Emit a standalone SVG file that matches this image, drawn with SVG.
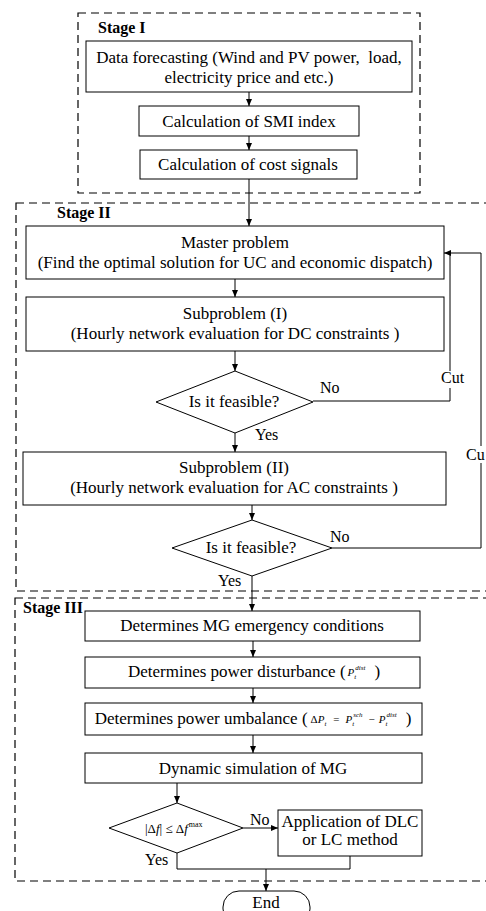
<svg xmlns="http://www.w3.org/2000/svg" width="486" height="911" viewBox="0 0 486 911" font-family="'Liberation Serif', 'Times New Roman', serif">
<style>
  .box{fill:#fff;stroke:#000;stroke-width:1}
  .stage{fill:none;stroke:#000;stroke-width:1.2;stroke-dasharray:8 5}
  .conn{fill:none;stroke:#000;stroke-width:1}
  text{font-family:'Liberation Serif','Times New Roman',serif;fill:#000}
  .t{font-size:17px;text-anchor:middle}
  .lbl{font-size:16px}
  .st{font-size:16px;font-weight:bold}
  .m{font-size:11px;font-style:italic}
  .mu{font-size:11px;font-style:normal}
  .sup{font-size:7px;font-style:italic}
  .big{font-size:17px;font-style:normal}
</style>
<defs>
  <marker id="arr" markerWidth="7" markerHeight="6" refX="7" refY="3" orient="auto" markerUnits="userSpaceOnUse">
    <path d="M0,0 L7,3 L0,6 z" fill="#000"/>
  </marker>
</defs>
<rect width="486" height="911" fill="#fff"/>

<!-- Stage containers -->
<g id="stage1">
  <rect class="stage" x="78" y="13" width="342" height="180"/>
  <text class="st" x="98" y="33">Stage I</text>
</g>
<g id="stage2">
  <rect class="stage" x="16" y="203" width="480" height="388"/>
  <text class="st" x="57" y="218">Stage II</text>
</g>
<g id="stage3">
  <rect class="stage" x="15" y="598" width="481" height="283"/>
  <text class="st" x="23" y="613">Stage III</text>
</g>

<!-- Connectors -->
<g id="connectors">
  <path class="conn" d="M249,92 V106" marker-end="url(#arr)"/>
  <path class="conn" d="M249,136 V150" marker-end="url(#arr)"/>
  <path class="conn" d="M249,179 V226" marker-end="url(#arr)"/>
  <path class="conn" d="M235,279 V297" marker-end="url(#arr)"/>
  <path class="conn" d="M235,351 V371" marker-end="url(#arr)"/>
  <path class="conn" d="M235,433 V452" marker-end="url(#arr)"/>
  <path class="conn" d="M313,401 H450 V253"/>
  <path class="conn" d="M332,548 H481 V253 H444" marker-end="url(#arr)"/>
  <path class="conn" d="M252,505 V520" marker-end="url(#arr)"/>
  <path class="conn" d="M252,576 V611" marker-end="url(#arr)"/>
  <path class="conn" d="M253,641 V657" marker-end="url(#arr)"/>
  <path class="conn" d="M253,688 V703" marker-end="url(#arr)"/>
  <path class="conn" d="M253,735 V753" marker-end="url(#arr)"/>
  <path class="conn" d="M177,783 V803" marker-end="url(#arr)"/>
  <path class="conn" d="M243,828 H278" marker-end="url(#arr)"/>
  <path class="conn" d="M177,853 V869 H350 V856"/>
  <path class="conn" d="M266,869 V891" marker-end="url(#arr)"/>
  <!-- labels -->
  <text class="lbl" x="320" y="393">No</text>
  <rect x="441" y="371" width="24" height="17" fill="#fff"/>
  <text class="lbl" x="441" y="383">Cut</text>
  <text class="lbl" x="255" y="440">Yes</text>
  <text class="lbl" x="330" y="542">No</text>
  <rect x="466" y="446" width="20" height="17" fill="#fff"/>
  <text class="lbl" x="466" y="460">Cu</text>
  <text class="lbl" x="218" y="586">Yes</text>
  <text class="lbl" x="250" y="825">No</text>
  <text class="lbl" x="145" y="865">Yes</text>
</g>

<!-- Nodes -->
<g id="forecast">
  <rect class="box" x="86" y="41" width="326" height="51"/>
  <text class="t" x="249" y="63" xml:space="preserve">Data forecasting (Wind and PV power,  load,</text>
  <text class="t" x="249" y="83">electricity price and etc.)</text>
</g>
<g id="smi">
  <rect class="box" x="139" y="106" width="220" height="30"/>
  <text class="t" x="249" y="127">Calculation of SMI index</text>
</g>
<g id="cost">
  <rect class="box" x="140" y="150" width="217" height="29"/>
  <text class="t" x="248" y="170">Calculation of cost signals</text>
</g>
<g id="master">
  <rect class="box" x="26" y="226" width="418" height="53"/>
  <text class="t" x="235" y="248">Master problem</text>
  <text class="t" x="235" y="268">(Find the optimal solution for UC and economic dispatch)</text>
</g>
<g id="sub1">
  <rect class="box" x="26" y="297" width="418" height="54"/>
  <text class="t" x="235" y="319">Subproblem (I)</text>
  <text class="t" x="235" y="339">(Hourly network evaluation for DC constraints )</text>
</g>
<g id="feasible1">
  <polygon class="box" points="235,371 313,402 235,433 156,402"/>
  <text class="t" x="234" y="407">Is it feasible?</text>
</g>
<g id="sub2">
  <rect class="box" x="23" y="452" width="423" height="53"/>
  <text class="t" x="234" y="473">Subproblem (II)</text>
  <text class="t" x="234" y="493">(Hourly network evaluation for AC constraints )</text>
</g>
<g id="feasible2">
  <polygon class="box" points="252,520 332,548 252,576 172,548"/>
  <text class="t" x="251" y="553">Is it feasible?</text>
</g>
<g id="emergency">
  <rect class="box" x="85" y="611" width="335" height="30"/>
  <text class="t" x="252" y="631">Determines MG emergency conditions</text>
</g>
<g id="disturbance">
  <rect class="box" x="85" y="657" width="335" height="31"/>
  <text class="t" x="254" y="677">Determines power disturbance (<tspan class="m" dx="2" dy="-1">P</tspan><tspan class="sup" dy="3">t</tspan><tspan class="sup" dx="-1" dy="-9">dist</tspan><tspan class="big" dx="9" dy="7">)</tspan></text>
</g>
<g id="umbalance">
  <rect class="box" x="85" y="703" width="337" height="32"/>
  <text class="t" x="253" y="724">Determines power umbalance (<tspan class="mu" dx="3" dy="-1">Δ</tspan><tspan class="m">P</tspan><tspan class="sup" dy="3">t</tspan><tspan class="mu" dx="7" dy="-3">=</tspan><tspan class="m" dx="6">P</tspan><tspan class="sup" dy="3">t</tspan><tspan class="sup" dx="-1" dy="-9">sch</tspan><tspan class="mu" dx="6" dy="6">−</tspan><tspan class="m" dx="4">P</tspan><tspan class="sup" dy="3">t</tspan><tspan class="sup" dx="-1" dy="-9">dist</tspan><tspan class="big" dx="9" dy="7">)</tspan></text>
</g>
<g id="dynamic">
  <rect class="box" x="85" y="753" width="337" height="30"/>
  <text class="t" x="253" y="774">Dynamic simulation of MG</text>
</g>
<g id="freqcheck">
  <polygon class="box" points="177,803 243,828 177,853 109,828"/>
  <text x="145" y="833" font-size="13">|Δ<tspan font-style="italic">f</tspan>| ≤ Δ<tspan font-style="italic">f</tspan><tspan font-size="8" dx="1" dy="-6">max</tspan></text>
</g>
<g id="dlc">
  <rect class="box" x="278" y="810" width="144" height="46"/>
  <text class="t" x="350" y="827">Application of DLC</text>
  <text class="t" x="350" y="845">or LC method</text>
</g>
<g id="end">
  <rect class="box" x="223" y="891" width="87" height="34" rx="16" ry="16"/>
  <text class="t" x="266" y="908">End</text>
</g>
</svg>
